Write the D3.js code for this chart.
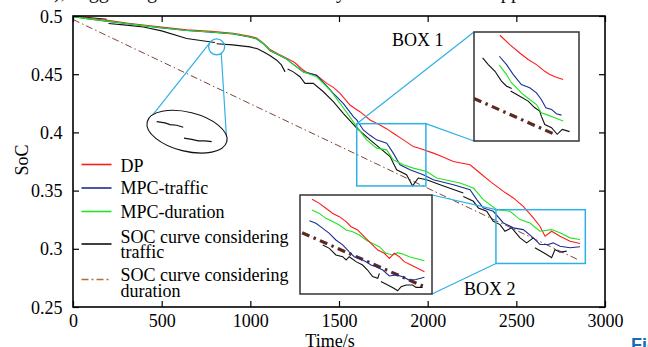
<!DOCTYPE html>
<html><head><meta charset="utf-8">
<script src="https://cdn.jsdelivr.net/npm/d3@7"></script>
<style>html,body{margin:0;padding:0;background:#fff;overflow:hidden}</style>
</head><body>
<svg id="chart" width="648" height="347"></svg>
<script>
// ---- axis ticks ----
const xTicks = [0, 500, 1000, 1500, 2000, 2500, 3000];
const yTicks = [0.25, 0.3, 0.35, 0.4, 0.45, 0.5];
const yTickLabels = ["0.25", "0.3", "0.35", "0.4", "0.45", "0.5"];

// ---- legend entries (multi-line labels split into rows) ----
const legendLabels = [["DP"], ["MPC-traffic"], ["MPC-duration"],
  ["SOC curve considering", "traffic"], ["SOC curve considering", "duration"]];

// ---- main series: [time (s), SoC]; null marks a break in the trace ----
const dp = [[0,0.5],[100,0.4978],[208,0.4960],[300,0.4940],[397,0.4922],[500,0.4905],[641,0.4882],[780,0.4868],[904,0.4852],[1000,0.4825],[1036,0.4810],[1075,0.4765],[1111,0.4712],[1160,0.4672],[1205,0.4638],[1250,0.4600],[1290,0.4545],[1318,0.4515],[1374,0.4492],[1431,0.4421],[1470,0.4385],[1506,0.4336],[1562,0.4235],[1590,0.4205],[1618,0.4178],[1675,0.4107],[1731,0.4064],[1770,0.4030],[1806,0.3993],[1863,0.3936],[1919,0.3878],[1957,0.3862],[2032,0.3822],[2070,0.3800],[2145,0.3750],[2239,0.3722],[2295,0.3651],[2352,0.3579],[2427,0.3493],[2483,0.3437],[2539,0.3365],[2596,0.3265],[2633,0.3194],[2662,0.3108],[2699,0.3151],[2746,0.3108],[2803,0.3065],[2859,0.3045]];
const mpcTraffic = [[0,0.4995],[100,0.4972],[208,0.4952],[300,0.4935],[397,0.4916],[500,0.4898],[641,0.4875],[780,0.4860],[904,0.4845],[1000,0.4818],[1036,0.4803],[1075,0.4760],[1111,0.4702],[1160,0.4665],[1205,0.4630],[1224,0.4606],[1299,0.4520],[1374,0.4490],[1430,0.4400],[1468,0.4336],[1524,0.4250],[1581,0.4135],[1600,0.4107],[1637,0.4021],[1675,0.3975],[1712,0.3936],[1769,0.3907],[1806,0.3822],[1844,0.3722],[1900,0.3679],[1975,0.3636],[2032,0.3593],[2145,0.3550],[2239,0.3508],[2277,0.3422],[2314,0.3351],[2370,0.3322],[2427,0.3222],[2483,0.3180],[2539,0.3165],[2596,0.3094],[2633,0.3037],[2680,0.3037],[2708,0.3051],[2746,0.3022],[2803,0.3009],[2859,0.3017]];
const mpcDuration = [[0,0.4995],[100,0.4973],[208,0.4954],[300,0.4936],[397,0.4917],[500,0.4899],[641,0.4876],[780,0.4862],[904,0.4847],[1000,0.4820],[1036,0.4805],[1075,0.4762],[1111,0.4704],[1160,0.4667],[1205,0.4632],[1224,0.4606],[1299,0.4520],[1374,0.4478],[1449,0.4364],[1506,0.4250],[1553,0.4150],[1600,0.4050],[1656,0.3936],[1712,0.3865],[1769,0.3850],[1806,0.3765],[1863,0.3722],[1919,0.3693],[1994,0.3664],[2051,0.3608],[2182,0.3565],[2258,0.3522],[2314,0.3422],[2389,0.3336],[2464,0.3322],[2521,0.3251],[2577,0.3222],[2633,0.3151],[2699,0.3165],[2746,0.3137],[2803,0.3094],[2859,0.3080]];
const socTraffic = [[0,0.5],[100,0.4985],[190,0.4972],null,[200,0.4935],[300,0.4922],[397,0.4906],[500,0.4872],[641,0.4807],[720,0.4790],[800,0.4772],null,[810,0.4762],[900,0.4752],[998,0.4735],[1040,0.4718],[1073,0.4692],[1110,0.4660],[1149,0.4620],[1175,0.4580],[1196,0.4520],null,[1210,0.4545],[1242,0.4520],[1280,0.4478],[1308,0.4421],[1355,0.4421],[1412,0.4349],[1468,0.4264],[1524,0.4164],[1600,0.4036],[1675,0.3936],[1731,0.3865],[1788,0.3793],[1825,0.3679],[1881,0.3636],[1915,0.3540],[1947,0.3608],[1994,0.3593],[2070,0.3550],[2201,0.3480],null,[2201,0.3450],[2258,0.3408],[2286,0.3351],[2333,0.3322],[2370,0.3236],[2408,0.3208],[2436,0.3151],[2474,0.3180],[2521,0.3094],[2558,0.3051],[2596,0.3094],null,[2605,0.3009],[2671,0.2951],[2699,0.2923],[2718,0.2994],[2746,0.2971],[2784,0.2980]];
const socDuration = [[0,0.497],[2850,0.2905]];

// ---- zoom windows [time range], [SoC range] ----
const box1T = [1600, 1990], box1S = [0.354, 0.4075];
const box2T = [2385, 2889], box2S = [0.2874, 0.3336];

// ---- BOX 1 detail traces ----
const b1dp = [[1696,0.4059],[1733,0.4013],[1770,0.3972],[1801,0.3940],[1832,0.3915],[1863,0.3882],[1881,0.3866],[1906,0.3853],[1931,0.3842]];
const b1traffic = [[1694,0.3956],[1721,0.3915],[1746,0.3866],[1776,0.3817],[1807,0.3801],[1832,0.3776],[1850,0.3744],[1867,0.3703],[1888,0.3695],[1906,0.3674],[1925,0.3667]];
const b1duration = [[1694,0.3912],[1721,0.3866],[1739,0.3826],[1758,0.3801],[1783,0.3768],[1807,0.3744],[1832,0.3719],[1850,0.3679],[1875,0.3667],[1900,0.3654],[1931,0.3638]];
const b1socTraffic = [[1632,0.3948],[1653,0.3915],[1678,0.3882],[1702,0.3834],[1721,0.3809],[1740,0.3798],null,[1736,0.3785],[1770,0.3760],[1801,0.3736],[1826,0.3703],[1844,0.3687],[1850,0.3662],[1863,0.3621],[1888,0.3605],[1909,0.3573],[1928,0.3597],[1955,0.3586]];
const b1socDuration = [[1600,0.3749],[1906,0.3569]];

// ---- BOX 2 detail traces ----
const b2dp = [[2431,0.3316],[2459,0.3297],[2484,0.3274],[2510,0.3250],[2535,0.3235],[2561,0.3212],[2580,0.3188],[2605,0.3173],[2631,0.3141],[2656,0.3110],[2682,0.3079],[2707,0.3064],[2726,0.3040],[2745,0.3064],[2764,0.3048],[2783,0.3025],[2809,0.3009],[2834,0.2994],[2860,0.2978]];
const b2traffic = [[2421,0.3216],[2446,0.3204],[2472,0.3180],[2497,0.3157],[2522,0.3126],[2548,0.3103],[2573,0.3071],[2592,0.3048],[2612,0.3040],[2637,0.3025],[2656,0.3009],[2675,0.3001],[2701,0.2986],[2726,0.2958],[2752,0.2963],[2777,0.2955],[2802,0.2939],[2828,0.2942],[2860,0.2952]];
const b2duration = [[2431,0.3266],[2459,0.3250],[2484,0.3227],[2510,0.3212],[2535,0.3196],[2561,0.3173],[2586,0.3165],[2612,0.3149],[2637,0.3126],[2662,0.3110],[2688,0.3095],[2713,0.3064],[2739,0.3056],[2758,0.3067],[2777,0.3061],[2802,0.3048],[2828,0.3040],[2860,0.3029]];
const b2socTraffic = [[2472,0.3103],[2497,0.3087],[2522,0.3056],[2548,0.3048],[2561,0.3033],[2573,0.3048],[2599,0.3025],[2624,0.3009],[2643,0.2986],[2662,0.2955],[2682,0.2947],[2688,0.2970],null,[2694,0.2932],[2720,0.2916],[2745,0.2900],[2758,0.2889],[2771,0.2908],[2790,0.2916],[2815,0.2916],[2828,0.2905],[2853,0.2905]];
const b2socDuration = [[2393,0.3160],[2860,0.2908]];

// ---- magnified loupe of the traffic trace around t = 810 s ----
const loupeCentre = [810, 0.4735];
const loupeT = [765, 855], loupeS = [0.4669, 0.4805];
const loupeA = [[775.9,0.4772],[785.3,0.4768],[790.9,0.4762],[798.4,0.4760],[805.8,0.4753]];
const loupeB = [[806.6,0.4716],[815.3,0.4712],[822.7,0.4707],[830.3,0.4707],[837.8,0.4704]];

// ---------------------------------------------------------------
const svg = d3.select("#chart");
const serif = "'Liberation Serif','Times New Roman',serif";
const L = 73, R = 605, T = 16, B = 307;
const x = d3.scaleLinear().domain([0, 3000]).range([L, R]);
const y = d3.scaleLinear().domain([0.25, 0.5]).range([B, T]);

const C = {dp:"#ff1a1a", traffic:"#1c2e94", duration:"#1ee61e", soc:"#111111",
           socDur:"#7d4438", socDurLegend:"#b0703c", socDurZoom:"#5c2a22", cyan:"#2fb0e6"};

// caption line cut off by the top edge
svg.append("text").attr("x", 54).attr("y", -2)
  .attr("font-family", serif).attr("font-size", 20.2).attr("fill", "#111")
  .text("), suggesting that both of the battery SOC levels were approached at the end");

svg.append("defs").append("clipPath").attr("id", "plotClip")
  .append("rect").attr("x", L).attr("y", T).attr("width", R - L).attr("height", B - T);

const mk = (sx, sy) => d3.line().defined(d => d).x(d => sx(d[0])).y(d => sy(d[1]));
const mainLine = mk(x, y);

const plot = svg.append("g").attr("clip-path", "url(#plotClip)");
plot.append("path").attr("d", mainLine(socDuration)).attr("fill", "none")
  .attr("stroke", C.socDur).attr("stroke-width", 1).attr("stroke-dasharray", "7,3,1.5,3");
plot.append("path").attr("d", mainLine(socTraffic)).attr("fill", "none").attr("stroke", C.soc).attr("stroke-width", 1.1);
plot.append("path").attr("d", mainLine(dp)).attr("fill", "none").attr("stroke", C.dp).attr("stroke-width", 1.1);
plot.append("path").attr("d", mainLine(mpcTraffic)).attr("fill", "none").attr("stroke", C.traffic).attr("stroke-width", 1.1);
plot.append("path").attr("d", mainLine(mpcDuration)).attr("fill", "none").attr("stroke", C.duration).attr("stroke-width", 1.1);

// ---- axes: inward ticks on all four sides ----
const styleAxis = g => { g.select(".domain").remove(); g.selectAll("line").attr("stroke", "#000").attr("stroke-width", 1.2); };
svg.append("g").attr("transform", `translate(0,${B})`)
  .call(d3.axisBottom(x).tickValues(xTicks).tickSize(-6).tickFormat(d3.format("d")))
  .call(styleAxis)
  .call(g => g.selectAll("text").attr("y", 7.5).attr("dy", "0.71em")
    .attr("font-family", serif).attr("font-size", 18).attr("fill", "#000"));
svg.append("g").attr("transform", `translate(0,${T})`)
  .call(d3.axisTop(x).tickValues(xTicks).tickSize(-6).tickFormat(""))
  .call(styleAxis);
svg.append("g").attr("transform", `translate(${L},0)`)
  .call(d3.axisLeft(y).tickValues(yTicks).tickSize(-6).tickFormat((d, i) => yTickLabels[i]))
  .call(styleAxis)
  .call(g => g.selectAll("text").attr("x", -10.5).attr("dy", "0.34em")
    .attr("font-family", serif).attr("font-size", 18).attr("fill", "#000"));
svg.append("g").attr("transform", `translate(${R},0)`)
  .call(d3.axisRight(y).tickValues(yTicks).tickSize(-6).tickFormat(""))
  .call(styleAxis);
svg.append("rect").attr("x", L).attr("y", T).attr("width", R - L).attr("height", B - T)
  .attr("fill", "none").attr("stroke", "#000").attr("stroke-width", 1.6);

// axis titles
svg.append("text").attr("x", 330).attr("y", 346.5).attr("text-anchor", "middle")
  .attr("font-family", serif).attr("font-size", 18).text("Time/s");
svg.append("text").attr("transform", "translate(28,160) rotate(-90)").attr("text-anchor", "middle")
  .attr("font-family", serif).attr("font-size", 18).text("SoC");

// ---- legend ----
const legendRows = [
  {c: C.dp, ly: 164.5, ty: [171.7]},
  {c: C.traffic, ly: 188, ty: [194.3]},
  {c: C.duration, ly: 211.5, ty: [217.5]},
  {c: C.soc, ly: 244, ty: [242.5, 258]},
  {c: C.socDurLegend, ly: 279.5, ty: [280.5, 297], dash: "7,3,2,3"}
];
const lg = svg.append("g");
legendRows.forEach((r, i) => {
  lg.append("line").attr("x1", 81.5).attr("x2", 111.5).attr("y1", r.ly).attr("y2", r.ly)
    .attr("stroke", r.c).attr("stroke-width", 1.6).attr("stroke-dasharray", r.dash || null);
  legendLabels[i].forEach((t, j) => lg.append("text").attr("x", 120.5).attr("y", r.ty[j])
    .attr("font-family", serif).attr("font-size", 18).attr("fill", "#000").text(t));
});

// ---- loupe: circle on the traffic trace and its magnified ellipse ----
const cx0 = x(loupeCentre[0]), cy0 = y(loupeCentre[1]), cr = 8;
const ex = 187, ey = 131.7, erx = 41, ery = 19.5, ang = 14 * Math.PI / 180;
const eL = [ex - erx * Math.cos(ang), ey - erx * Math.sin(ang)];
const eR = [ex + erx * Math.cos(ang), ey + erx * Math.sin(ang)];
const onC = a => [cx0 + cr * Math.cos(a * Math.PI / 180), cy0 + cr * Math.sin(a * Math.PI / 180)];
const cl = onC(208), crr = onC(55);
svg.append("line").attr("x1", cl[0]).attr("y1", cl[1]).attr("x2", eL[0]).attr("y2", eL[1])
  .attr("stroke", C.cyan).attr("stroke-width", 1.2);
svg.append("line").attr("x1", crr[0]).attr("y1", crr[1]).attr("x2", eR[0]).attr("y2", eR[1])
  .attr("stroke", C.cyan).attr("stroke-width", 1.2);
svg.append("circle").attr("cx", cx0).attr("cy", cy0).attr("r", cr)
  .attr("fill", "none").attr("stroke", C.cyan).attr("stroke-width", 1.3);
svg.append("ellipse").attr("cx", ex).attr("cy", ey).attr("rx", erx).attr("ry", ery)
  .attr("transform", `rotate(14,${ex},${ey})`).attr("fill", "#fff").attr("stroke", "#111").attr("stroke-width", 1.1);
const lx = d3.scaleLinear().domain(loupeT).range([147, 227]);
const ly = d3.scaleLinear().domain(loupeS).range([152, 112]);
[loupeA, loupeB].forEach(s => svg.append("path").attr("d", mk(lx, ly)(s))
  .attr("fill", "none").attr("stroke", "#111").attr("stroke-width", 1.2));

// ---- zoom boxes ----
function zoomBox(tDom, sDom, frame, series, id, links, label) {
  const [fx0, fy0, fx1, fy1] = frame;
  const sx0 = x(tDom[0]), sx1 = x(tDom[1]), sy0 = y(sDom[1]), sy1 = y(sDom[0]);
  const corner = {tl: [sx0, sy0], tr: [sx1, sy0], bl: [sx0, sy1], br: [sx1, sy1]};
  const fcorner = {tl: [fx0, fy0], tr: [fx1, fy0], bl: [fx0, fy1], br: [fx1, fy1]};
  svg.append("rect").attr("x", sx0).attr("y", sy0).attr("width", sx1 - sx0).attr("height", sy1 - sy0)
    .attr("fill", "none").attr("stroke", C.cyan).attr("stroke-width", 1.5);
  links.forEach(([a, b]) => svg.append("line")
    .attr("x1", corner[a][0]).attr("y1", corner[a][1]).attr("x2", fcorner[b][0]).attr("y2", fcorner[b][1])
    .attr("stroke", C.cyan).attr("stroke-width", 1.2));
  svg.append("rect").attr("x", fx0).attr("y", fy0).attr("width", fx1 - fx0).attr("height", fy1 - fy0)
    .attr("fill", "#fff");
  svg.append("defs").append("clipPath").attr("id", id)
    .append("rect").attr("x", fx0).attr("y", fy0).attr("width", fx1 - fx0).attr("height", fy1 - fy0);
  const zx = d3.scaleLinear().domain(tDom).range([fx0, fx1]);
  const zy = d3.scaleLinear().domain(sDom).range([fy1, fy0]);
  const g = svg.append("g").attr("clip-path", `url(#${id})`);
  series.forEach(s => g.append("path").attr("d", mk(zx, zy)(s.d)).attr("fill", "none")
    .attr("stroke", s.c).attr("stroke-width", s.w || 1.1).attr("stroke-dasharray", s.dash || null));
  svg.append("rect").attr("x", fx0).attr("y", fy0).attr("width", fx1 - fx0).attr("height", fy1 - fy0)
    .attr("fill", "none").attr("stroke", "#333").attr("stroke-width", 1.5);
  svg.append("text").attr("x", label[1]).attr("y", label[2])
    .attr("font-family", serif).attr("font-size", 18).attr("fill", "#000").text(label[0]);
}
zoomBox(box1T, box1S, [474, 32, 579, 141], [
  {d: b1socDuration, c: C.socDurZoom, w: 3.2, dash: "8,4.5,2.5,4.5"},
  {d: b1socTraffic, c: C.soc},
  {d: b1duration, c: C.duration},
  {d: b1traffic, c: C.traffic},
  {d: b1dp, c: C.dp}
], "zoom1", [["tl", "tl"], ["tr", "bl"]], ["BOX 1", 392, 45.7]);
zoomBox(box2T, box2S, [300, 195, 432, 294], [
  {d: b2socDuration, c: C.socDurZoom, w: 3.2, dash: "8,4.5,2.5,4.5"},
  {d: b2socTraffic, c: C.soc},
  {d: b2duration, c: C.duration},
  {d: b2traffic, c: C.traffic},
  {d: b2dp, c: C.dp}
], "zoom2", [["tl", "tr"], ["bl", "br"]], ["BOX 2", 464, 295]);

// page label cut off at the bottom edge
svg.append("text").attr("x", 631).attr("y", 351)
  .attr("font-family", "'Liberation Sans',Arial,sans-serif").attr("font-weight", "bold")
  .attr("font-size", 18).attr("fill", "#1a6bb5").text("Fig");
</script>
</body></html>
